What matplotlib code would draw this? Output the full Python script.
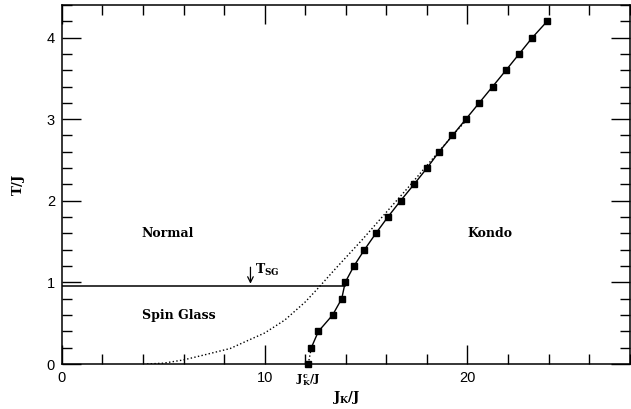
import numpy as np
import matplotlib.pyplot as plt
from matplotlib.ticker import MultipleLocator

plt.rcParams['mathtext.fontset'] = 'dejavuserif'

# ------------------------------------------------------------
# Data
# ------------------------------------------------------------
# Kondo boundary (squares)
kondo_jk = [12.15, 12.3, 12.65, 13.35, 13.8, 13.97, 14.4, 14.92, 15.48, 16.07,
            16.7, 17.36, 18.0, 18.6, 19.26, 19.92, 20.58, 21.24, 21.9, 22.55,
            23.2, 23.93]
kondo_t = [0.0, 0.2, 0.4, 0.6, 0.8, 1.0, 1.2, 1.4, 1.6, 1.8,
           2.0, 2.2, 2.4, 2.6, 2.8, 3.0, 3.2, 3.4, 3.6, 3.8,
           4.0, 4.2]

# dotted crossover curve
cross_jk = [4.2, 5.0, 6.0, 7.0, 8.3, 9.1, 10.0, 11.0, 12.0, 12.6, 13.5,
            14.8, 16.0, 17.1, 18.3, 19.4, 20.0]
cross_t = [0.0, 0.01, 0.05, 0.11, 0.19, 0.28, 0.38, 0.54, 0.76, 0.92, 1.17,
           1.52, 1.86, 2.17, 2.52, 2.84, 3.0]

t_sg = 0.95
jk_c = 12.15

fig = plt.figure(figsize=(6.31, 4.09), dpi=100)
ax = fig.add_axes([0.098, 0.11, 0.9, 0.878])

# spin glass line
ax.plot([0, 13.97], [t_sg, t_sg], color='black', lw=1.1)

# crossover curve
ax.plot(cross_jk, cross_t, ':', color='black', lw=1.0)

# Kondo line: first segment dotted, rest solid
ax.plot(kondo_jk[:2], kondo_t[:2], ':', color='black', lw=1.0)
ax.plot(kondo_jk[1:], kondo_t[1:], '-', color='black', lw=1.0)
ax.plot(kondo_jk, kondo_t, 's', color='black', ms=3.8, clip_on=False)

# arrow for T_SG
ax.annotate('', xy=(9.3, t_sg), xytext=(9.3, 1.22),
            arrowprops=dict(arrowstyle='->', color='black', lw=0.9))
ax.text(9.5, 1.15, r'$\mathbf{T_{SG}}$', fontsize=9, va='center', ha='left')

lbl = dict(family='DejaVu Serif', fontweight='bold', fontsize=9,
           ha='center', va='center')
ax.text(5.2, 1.6, 'Normal', **lbl)
ax.text(5.75, 0.59, 'Spin Glass', **lbl)
ax.text(21.1, 1.6, 'Kondo', **lbl)

ax.set_xlim(0, 28)
ax.set_ylim(0, 4.4)
ax.xaxis.set_major_locator(MultipleLocator(10))
ax.xaxis.set_minor_locator(MultipleLocator(2))
ax.yaxis.set_major_locator(MultipleLocator(1))
ax.yaxis.set_minor_locator(MultipleLocator(0.2))
ax.tick_params(which='both', direction='in', top=True, right=True,
               labelsize=10.5, width=1.0, pad=5)
ax.tick_params(which='major', length=14)
ax.tick_params(which='minor', length=7)
for lab in ax.get_xticklabels() + ax.get_yticklabels():
    lab.set_family('Liberation Sans')
for s in ax.spines.values():
    s.set_linewidth(1.1)

ax.text(jk_c, -0.1, r'$\mathbf{J^c_K/J}$', fontsize=8, ha='center', va='top')
ax.set_xlabel(r'$\mathbf{J_K/J}$', fontsize=9.5, labelpad=3)
ax.set_ylabel(r'$\mathbf{T/J}$', fontsize=9.5, labelpad=14)

fig.savefig('out.png', dpi=100)
